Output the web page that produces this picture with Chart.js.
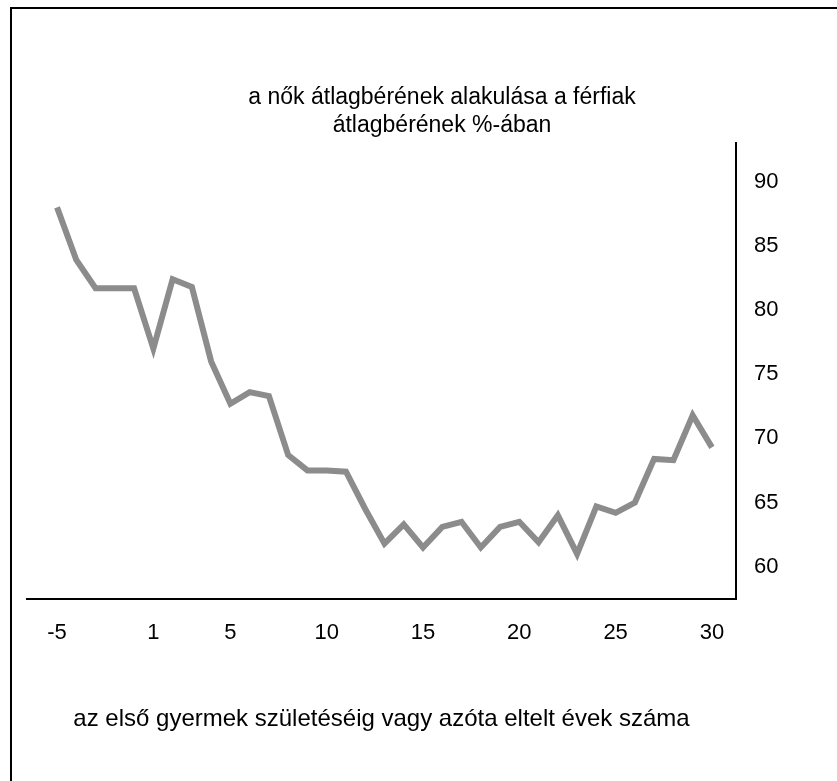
<!DOCTYPE html>
<html>
<head>
<meta charset="utf-8">
<script src="https://cdn.jsdelivr.net/npm/chart.js@4"></script>
<style>
    html, body { margin: 0; padding: 0; background: #fff; overflow: hidden; }
    #frame {
        position: absolute; left: 10px; top: 7px; width: 900px; height: 900px;
        border-left: 2px solid #000; border-top: 2px solid #000;
    }
    #wrap { position: absolute; left: 0; top: 0; width: 857px; height: 781px; }
</style>
</head>
<body>
<div id="frame"></div>
<div id="wrap"><canvas id="wageGraph"></canvas></div>
<script>
// years before / after the first child (there is no year 0)
const years = [-5, -4, -3, -2, -1, 1, 2, 3, 4, 5, 6, 7, 8, 9, 10, 11, 12, 13, 14, 15,
    16, 17, 18, 19, 20, 21, 22, 23, 24, 25, 26, 27, 28, 29, 30];
// women's average wage as % of men's
const wageRatio = [88, 83.9, 81.7, 81.7, 81.7, 77, 82.4, 81.8, 76, 72.7, 73.6, 73.3, 68.7, 67.5, 67.5,
    67.4, 64.5, 61.8, 63.3, 61.5, 63.1, 63.5, 61.5, 63.1, 63.5, 61.9, 64.0, 61.0, 64.7, 64.2,
    65.0, 68.4, 68.3, 71.8, 69.3];
const xTickLabels = [-5, 1, 5, 10, 15, 20, 25, 30];
const yTickValues = [60, 65, 70, 75, 80, 85, 90];

document.addEventListener('DOMContentLoaded', () => {
    const ctx = document.getElementById('wageGraph').getContext('2d');
    Chart.defaults.font.family = '"Liberation Sans", Arial, sans-serif';
    Chart.defaults.color = '#000';

    const points = wageRatio.map((v, i) => ({ x: i, y: v }));

    new Chart(ctx, {
        type: 'line',
        data: {
            datasets: [{
                label: 'a nők átlagbére',
                data: points,
                borderColor: '#8c8c8c',
                borderWidth: 6,
                borderJoinStyle: 'miter',
                pointRadius: 0,
                tension: 0,
                fill: false
            }]
        },
        options: {
            responsive: true,
            maintainAspectRatio: false,
            animation: false,
            layout: {
                padding: { left: 27, right: 0, top: 0, bottom: 47 }
            },
            plugins: {
                legend: { display: false },
                tooltip: { enabled: false },
                title: {
                    display: true,
                    text: ['a nők átlagbérének alakulása a férfiak', 'átlagbérének %-ában'],
                    font: { size: 23, weight: 'normal' },
                    lineHeight: 1.1,
                    padding: { top: 84, bottom: 4 }
                }
            },
            scales: {
                x: {
                    type: 'linear',
                    min: -1.56,
                    max: 35.25,
                    grid: { display: false, drawTicks: false },
                    border: { display: true, color: '#000', width: 2 },
                    afterBuildTicks: (axis) => {
                        axis.ticks = xTickLabels.map(l => ({ value: years.indexOf(l) }));
                    },
                    ticks: {
                        font: { size: 22 },
                        padding: 21,
                        maxRotation: 0,
                        autoSkip: false,
                        callback: (value) => String(years[value])
                    },
                    title: {
                        display: true,
                        text: 'az első gyermek születéséig vagy azóta eltelt évek száma',
                        font: { size: 24 },
                        padding: { top: 38, bottom: 0 }
                    }
                },
                y: {
                    position: 'right',
                    min: 57.5,
                    max: 93,
                    grid: { display: false, drawTicks: false },
                    border: { display: true, color: '#000', width: 2 },
                    afterBuildTicks: (axis) => {
                        axis.ticks = yTickValues.map(v => ({ value: v }));
                    },
                    afterFit: (axis) => {
                        axis.width = 121;
                    },
                    ticks: {
                        font: { size: 22 },
                        padding: 18
                    }
                }
            }
        }
    });
});
</script>
</body>
</html>
